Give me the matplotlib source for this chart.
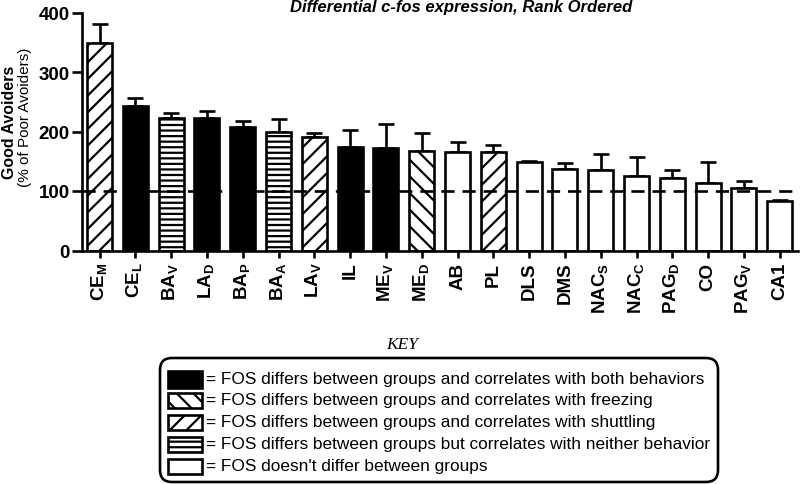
import matplotlib
matplotlib.use("Agg")
import matplotlib.pyplot as plt
from matplotlib.patches import Rectangle, FancyBboxPatch

plt.rcParams['font.family'] = ['Liberation Sans', 'DejaVu Sans']
plt.rcParams['mathtext.fontset'] = 'custom'
plt.rcParams['mathtext.rm'] = 'Liberation Sans'
plt.rcParams['mathtext.bf'] = 'Liberation Sans:bold'
plt.rcParams['hatch.linewidth'] = 1.6

# data
regions = [r'CE$_\mathbf{M}$', r'CE$_\mathbf{L}$', r'BA$_\mathbf{V}$', r'LA$_\mathbf{D}$',
           r'BA$_\mathbf{P}$', r'BA$_\mathbf{A}$', r'LA$_\mathbf{V}$', 'IL',
           r'ME$_\mathbf{V}$', r'ME$_\mathbf{D}$', 'AB', 'PL', 'DLS', 'DMS',
           r'NAC$_\mathbf{S}$', r'NAC$_\mathbf{C}$', r'PAG$_\mathbf{D}$', 'CO',
           r'PAG$_\mathbf{V}$', 'CA1']
means = [348, 243, 222, 222, 207, 199, 190, 174, 172, 168,
         166, 166, 149, 137, 135, 125, 122, 113, 105, 84]
sem = [32, 13, 9, 12, 10, 22, 8, 29, 40, 29,
       16, 11, 2, 10, 27, 32, 13, 36, 11, 1]
groups = ['shuttle', 'both', 'neither', 'both', 'both', 'neither', 'shuttle', 'both',
          'both', 'freeze', 'none', 'shuttle', 'none', 'none', 'none', 'none',
          'none', 'none', 'none', 'none']

key_order = ['both', 'freeze', 'shuttle', 'neither', 'none']
key_text = ["= FOS differs between groups and correlates with both behaviors",
            "= FOS differs between groups and correlates with freezing",
            "= FOS differs between groups and correlates with shuttling",
            "= FOS differs between groups but correlates with neither behavior",
            "= FOS doesn't differ between groups"]

style = {
    'both': dict(facecolor='black', hatch=None),
    'freeze': dict(facecolor='white', hatch='\\\\'),
    'shuttle': dict(facecolor='white', hatch='//'),
    'neither': dict(facecolor='white', hatch='---'),
    'none': dict(facecolor='white', hatch=None),
}
LW = 1.9

fig = plt.figure(figsize=(8, 4.85), dpi=100)
ax = fig.add_axes([82 / 800, 1 - 251.5 / 485, (798 - 82) / 800, (251.5 - 13.5) / 485])

x = list(range(len(regions)))
ax.errorbar(x, means, yerr=[[0] * len(sem), sem], fmt='none', ecolor='black',
            elinewidth=LW, capsize=5.5, capthick=LW, zorder=1)
for i, g in enumerate(groups):
    ax.bar(i, means[i], width=0.7, edgecolor='black', linewidth=LW,
           zorder=2, **style[g])

ax.axhline(100, color='black', linestyle=(0, (5, 3)), linewidth=1.9, zorder=5)

ax.set_xlim(-0.49, 19.51)
ax.set_ylim(0, 400)
ax.set_yticks([0, 100, 200, 300, 400])
ax.set_xticks(x)
ax.set_xticklabels(regions, rotation=90, fontsize=13.5, fontweight='bold')
for t in ax.get_yticklabels():
    t.set_fontsize(13.5)
    t.set_fontweight('bold')
ax.tick_params(axis='y', length=7, width=LW, pad=2)
ax.tick_params(axis='x', length=5, width=LW, pad=3)
for s in ['top', 'right']:
    ax.spines[s].set_visible(False)
for s in ['left', 'bottom']:
    ax.spines[s].set_linewidth(LW)

fig.text(10 / 800, 1 - 122 / 485, 'Good Avoiders', rotation=90, fontsize=11.5,
         fontweight='bold', ha='center', va='center')
fig.text(25 / 800, 1 - 117 / 485, '(% of Poor Avoiders)', rotation=90, fontsize=11,
         ha='center', va='center')
fig.text(461 / 800, 1 - 7.5 / 485, 'Differential c-fos expression, Rank Ordered',
         fontsize=12, fontweight='bold', fontstyle='italic', ha='center', va='center')

# key box, drawn in inches from the lower-left corner
tr = fig.dpi_scale_trans
H = 4.85
fig.text(4.02, H - 3.45, 'KEY', transform=tr, fontsize=12.5, fontstyle='italic',
         family=['Liberation Serif', 'DejaVu Serif'], ha='center', va='center')
frame = FancyBboxPatch((1.60, H - 4.83), 5.58, 1.24, transform=tr,
                       boxstyle='round,pad=0,rounding_size=0.12',
                       facecolor='white', edgecolor='black', linewidth=LW)
fig.patches.append(frame)
rows = [3.80, 4.01, 4.23, 4.45, 4.67]
for g, label, yc in zip(key_order, key_text, rows):
    h = 0.17 if g == 'both' else 0.15
    r = Rectangle((1.68, H - yc - h / 2), 0.34, h, transform=tr,
                  edgecolor='black', linewidth=LW, **style[g])
    fig.patches.append(r)
    fig.text(2.06, H - yc, label, transform=tr, fontsize=12.4,
             ha='left', va='center')

fig.savefig('out.png', dpi=100)
